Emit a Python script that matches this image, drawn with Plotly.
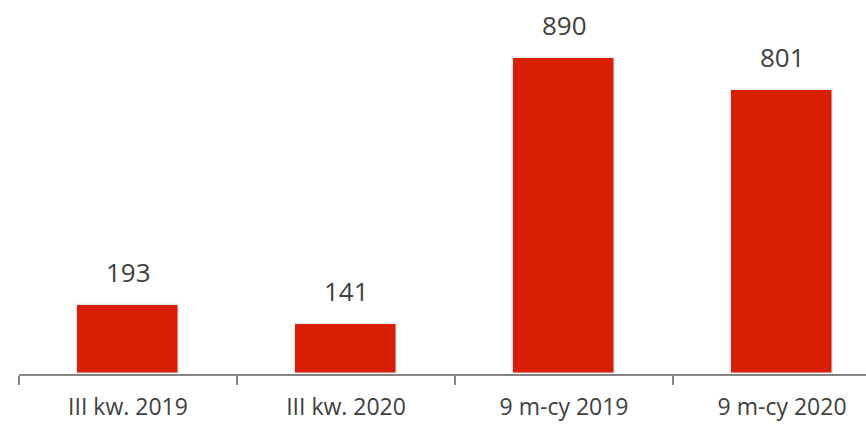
import plotly.graph_objects as go

categories = ["III kw. 2019", "III kw. 2020", "9 m-cy 2019", "9 m-cy 2020"]
values = [193, 141, 890, 801]

BAR_COLOR = "#D81F05"
TEXT_COLOR = "#404040"
FONT = "Open Sans"

fig = go.Figure()
fig.add_trace(go.Bar(
    x=categories,
    y=values,
    width=0.47,
    marker=dict(color=BAR_COLOR, line=dict(color="#E6EDF3", width=1.5)),
    hoverinfo="skip",
))

for c, v in zip(categories, values):
    fig.add_annotation(
        x=c, y=v, text=str(v), showarrow=False,
        yanchor="bottom", yshift=13,
        font=dict(family=FONT, size=26, color=TEXT_COLOR),
    )

fig.update_layout(
    width=866, height=424,
    margin=dict(l=19, r=0, t=0, b=50),
    paper_bgcolor="white", plot_bgcolor="white",
    showlegend=False,
    bargap=0,
    xaxis=dict(
        type="category",
        range=[-0.5, 3.385],
        automargin=False,
        showline=True, linecolor="#858585", linewidth=1.5,
        ticks="outside", tickson="boundaries", ticklen=9,
        tickcolor="#858585", tickwidth=1.5,
        ticklabelstandoff=12,
        showgrid=False, zeroline=False,
        tickfont=dict(family=FONT, size=23, color=TEXT_COLOR),
        fixedrange=True,
    ),
    yaxis=dict(
        range=[0, 1053],
        automargin=False,
        visible=False, showgrid=False, zeroline=False,
        fixedrange=True,
    ),
)

fig.write_html(
    "out.html",
    config={"displayModeBar": False},
    post_script="document.body.style.margin='0';document.body.style.overflow='hidden';",
)
